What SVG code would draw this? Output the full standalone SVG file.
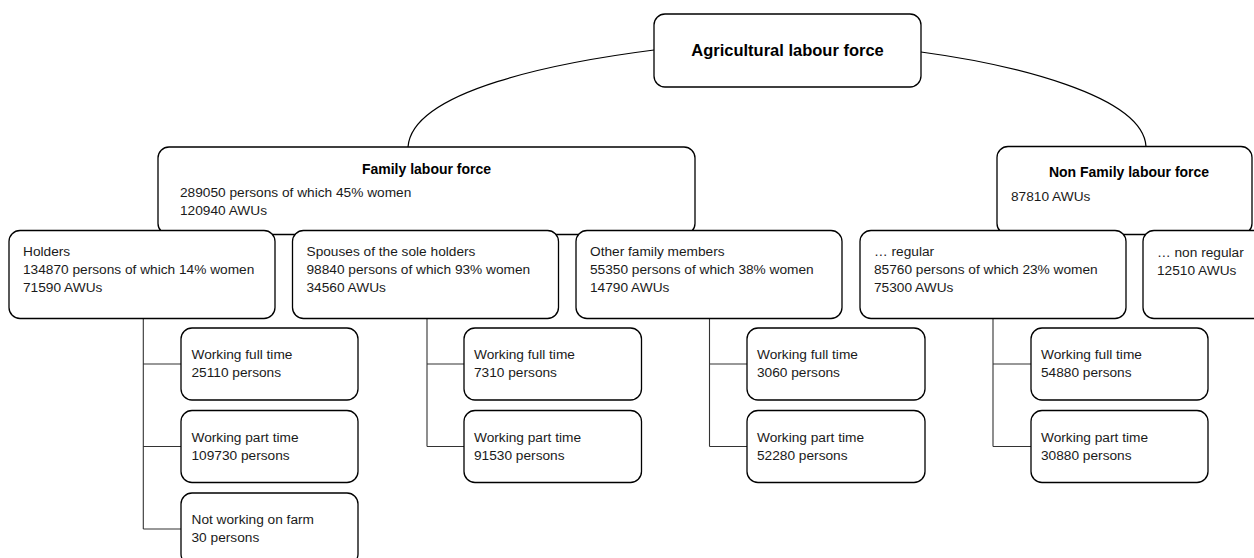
<svg xmlns="http://www.w3.org/2000/svg" width="1254" height="558" viewBox="0 0 1254 558">
<style>
.box{fill:#fff;stroke:#000;stroke-width:1.3}
.con{fill:none;stroke:#000;stroke-width:1.2}
.tree{fill:none;stroke:#333;stroke-width:1.1}
text{font-family:"Liberation Sans",Arial,sans-serif;fill:#1a1a1a}
.t{font-size:13.7px}
.b{font-weight:bold;fill:#000;text-anchor:middle}
</style>
<rect width="1254" height="558" fill="#fff"/>
<g id="connectors">
<path class="con" d="M654,50 C560,62 412,90 408,147"/>
<path class="con" d="M921,52 C1010,64 1143,95 1146,146.5"/>
<path class="tree" d="M143.3,318.5 V529 M143.3,364 H181 M143.3,446.5 H181 M143.3,529 H181"/>
<path class="tree" d="M427,318.5 V446.5 M427,364 H464 M427,446.5 H464"/>
<path class="tree" d="M709.5,318.5 V446.5 M709.5,364 H747 M709.5,446.5 H747"/>
<path class="tree" d="M993,318.5 V446.5 M993,364 H1031 M993,446.5 H1031"/>
</g>
<g id="agricultural">
<rect class="box" x="654" y="14" width="267" height="73" rx="11"/>
<text class="b" x="787.5" y="56" font-size="16.5px">Agricultural labour force</text>
</g>
<g id="family">
<rect class="box" x="158" y="147" width="537" height="87.5" rx="11"/>
<text class="b" x="426.5" y="173.5" font-size="14px">Family labour force</text>
<text class="t" x="180" y="197">289050 persons of which 45% women</text>
<text class="t" x="180" y="215">120940 AWUs</text>
</g>
<g id="nonfamily">
<rect class="box" x="997" y="146.5" width="255" height="88" rx="11"/>
<text class="b" x="1129" y="177" font-size="14px">Non Family labour force</text>
<text class="t" x="1011" y="201">87810 AWUs</text>
</g>
<g id="holders">
<rect class="box" x="9" y="230.5" width="266" height="88" rx="11"/>
<text class="t" x="23" y="256">Holders</text>
<text class="t" x="23" y="274">134870 persons of which 14% women</text>
<text class="t" x="23" y="292">71590 AWUs</text>
</g>
<g id="spouses">
<rect class="box" x="292.5" y="230.5" width="266" height="88" rx="11"/>
<text class="t" x="306.5" y="256">Spouses of the sole holders</text>
<text class="t" x="306.5" y="274">98840 persons of which 93% women</text>
<text class="t" x="306.5" y="292">34560 AWUs</text>
</g>
<g id="other">
<rect class="box" x="576" y="230.5" width="266" height="88" rx="11"/>
<text class="t" x="590" y="256">Other family members</text>
<text class="t" x="590" y="274">55350 persons of which 38% women</text>
<text class="t" x="590" y="292">14790 AWUs</text>
</g>
<g id="regular">
<rect class="box" x="860" y="230.5" width="266" height="88" rx="11"/>
<text class="t" x="874" y="256">… regular</text>
<text class="t" x="874" y="274">85760 persons of which 23% women</text>
<text class="t" x="874" y="292">75300 AWUs</text>
</g>
<g id="nonregular">
<rect class="box" x="1143" y="230.5" width="140" height="88" rx="11"/>
<text class="t" x="1157" y="257">… non regular</text>
<text class="t" x="1157" y="275">12510 AWUs</text>
</g>
<g id="holders-full">
<rect class="box" x="181" y="328" width="177" height="72" rx="11"/>
<text class="t" x="191.5" y="359">Working full time</text>
<text class="t" x="191.5" y="377">25110 persons</text>
</g>
<g id="holders-part">
<rect class="box" x="181" y="410.5" width="177" height="72" rx="11"/>
<text class="t" x="191.5" y="441.5">Working part time</text>
<text class="t" x="191.5" y="459.5">109730 persons</text>
</g>
<g id="holders-not">
<rect class="box" x="181" y="493" width="177" height="72" rx="11"/>
<text class="t" x="191.5" y="523.5">Not working on farm</text>
<text class="t" x="191.5" y="541.5">30 persons</text>
</g>
<g id="spouses-full">
<rect class="box" x="464" y="328" width="177.5" height="72" rx="11"/>
<text class="t" x="474" y="359">Working full time</text>
<text class="t" x="474" y="377">7310 persons</text>
</g>
<g id="spouses-part">
<rect class="box" x="464" y="410.5" width="177.5" height="72" rx="11"/>
<text class="t" x="474" y="441.5">Working part time</text>
<text class="t" x="474" y="459.5">91530 persons</text>
</g>
<g id="other-full">
<rect class="box" x="747" y="328" width="178" height="72" rx="11"/>
<text class="t" x="757" y="359">Working full time</text>
<text class="t" x="757" y="377">3060 persons</text>
</g>
<g id="other-part">
<rect class="box" x="747" y="410.5" width="178" height="72" rx="11"/>
<text class="t" x="757" y="441.5">Working part time</text>
<text class="t" x="757" y="459.5">52280 persons</text>
</g>
<g id="regular-full">
<rect class="box" x="1031" y="328" width="177" height="72" rx="11"/>
<text class="t" x="1041" y="359">Working full time</text>
<text class="t" x="1041" y="377">54880 persons</text>
</g>
<g id="regular-part">
<rect class="box" x="1031" y="410.5" width="177" height="72" rx="11"/>
<text class="t" x="1041" y="441.5">Working part time</text>
<text class="t" x="1041" y="459.5">30880 persons</text>
</g>
</svg>
